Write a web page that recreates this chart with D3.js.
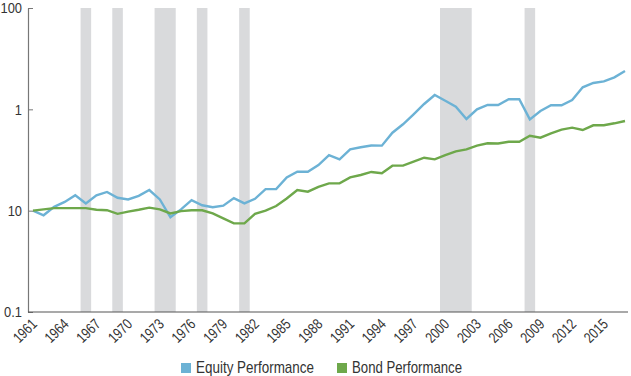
<!DOCTYPE html>
<html>
<head>
<meta charset="utf-8">
<script src="https://cdn.jsdelivr.net/npm/d3@7"></script>
<style>
  body { margin: 0; background: #fff; }
  text { font-family: "Liberation Sans", Arial, sans-serif; }
</style>
</head>
<body>
<div id="chart"></div>
<script>
// datos
const years = d3.range(1961, 2018)
const equity = [10, 9.0, 10.9, 12.2, 14.2, 11.8, 14.2, 15.3, 13.4, 12.9,
  14.0, 16.0, 12.9, 8.6, 10.3, 12.7, 11.3, 10.8, 11.2, 13.3,
  11.8, 13.1, 16.3, 16.3, 21.3, 24.2, 24.2, 28.2, 35.4, 32.1,
  40.3, 42.2, 44.0, 43.8, 58.8, 71.2, 89.3, 112.9, 138.5, 121.7,
  106.2, 80.3, 100, 110.4, 110.4, 125.6, 125.6, 79.7, 96.3, 109.6,
  109.6, 123.7, 165, 182, 189, 207, 239]
const bond = [10, 10.3, 10.6, 10.6, 10.6, 10.6, 10.2, 10.1, 9.3, 9.8,
  10.2, 10.7, 10.3, 9.4, 9.9, 10.1, 10.1, 9.4, 8.4, 7.5,
  7.5, 9.3, 10.0, 11.1, 13.2, 16.0, 15.4, 17.2, 18.6, 18.6,
  21.3, 22.5, 24.1, 23.4, 27.8, 27.8, 30.4, 33.3, 32.1, 35.4,
  38.5, 40.3, 43.8, 46.2, 46.0, 47.9, 47.9, 54.9, 52.5, 58.0,
  63.0, 65.9, 62.5, 69.6, 69.6, 72.8, 76.7]
// recesiones (año inicial, año final)
const recessions = [[1966, 1966], [1969, 1969], [1973, 1974], [1977, 1977],
  [1981, 1981], [2000, 2002], [2008, 2008]]
const yTicks = [1000, 100, 10, 1]
const yTickLabels = ["100", "1", "10", "0.1"]
const xTicks = d3.range(1961, 2016, 3)
const seriesNames = ["Equity Performance", "Bond Performance"]
const seriesColors = ["#6cb2d5", "#6ea84b"]

const width = 631, height = 376
const margin = { top: 8, right: 3, bottom: 64, left: 28 }
const innerWidth = width - margin.left - margin.right
const innerHeight = height - margin.top - margin.bottom

// estrecha el texto (fuente condensada aproximada)
function condense(sel, k) {
  sel.each(function () {
    const w = this.getComputedTextLength()
    d3.select(this).attr("textLength", w * k).attr("lengthAdjust", "spacingAndGlyphs")
  })
}

const svg = d3.select("#chart").append("svg")
  .attr("width", width)
  .attr("height", height)

const g = svg.append("g")
  .attr("transform", `translate(${margin.left},${margin.top})`)

const x = d3.scaleLinear()
  .domain([1961, 2017])
  .range([5, 597])

const y = d3.scaleLog()
  .domain([1, 1000])
  .range([innerHeight, 0])

// barras de recesión
g.selectAll("rect.rec")
  .data(recessions)
  .join("rect")
  .attr("class", "rec")
  .attr("x", d => x(d[0] - 0.5))
  .attr("width", d => x(d[1] + 0.5) - x(d[0] - 0.5))
  .attr("y", 0)
  .attr("height", innerHeight)
  .attr("fill", "#d9dadc")

// líneas
const series = [equity, bond]
const line = d3.line()
  .x((d, i) => x(years[i]))
  .y(d => y(d))

g.selectAll("path.series")
  .data(series)
  .join("path")
  .attr("class", "series")
  .attr("d", line)
  .attr("fill", "none")
  .attr("stroke", (d, i) => seriesColors[i])
  .attr("stroke-width", 2.4)

// eje Y
const yAxis = g.append("g")
  .call(d3.axisLeft(y)
    .tickValues(yTicks)
    .tickSizeInner(-5)
    .tickSizeOuter(0)
    .tickPadding(6)
    .tickFormat((d, i) => yTickLabels[i]))
yAxis.select(".domain").attr("stroke", "#777").attr("stroke-width", 1.2)
yAxis.selectAll(".tick line").attr("stroke", "#777")
yAxis.selectAll(".tick text")
  .attr("fill", "#333")
  .attr("font-size", "15px")
  .attr("font-family", "Liberation Sans, Arial, sans-serif")
  .call(condense, 0.86)

// eje X (línea)
g.append("line")
  .attr("x1", 0)
  .attr("x2", innerWidth)
  .attr("y1", innerHeight)
  .attr("y2", innerHeight)
  .attr("stroke", "#555")
  .attr("stroke-width", 1.2)

// etiquetas X giradas
const xLabels = g.selectAll("g.xlab")
  .data(xTicks)
  .join("g")
  .attr("class", "xlab")
  .attr("transform", d => `translate(${x(d) + 5},${innerHeight + 13}) rotate(-45)`)

xLabels.append("text")
  .attr("text-anchor", "end")
  .attr("fill", "#333")
  .attr("font-size", "15px")
  .text(d => d)
  .call(condense, 0.8)

// leyenda
const legendX = [181, 337]
const legendW = [118, 110]
const legend = svg.append("g")
  .selectAll("g")
  .data(seriesNames)
  .join("g")
  .attr("transform", (d, i) => `translate(${legendX[i]},363)`)

legend.append("rect")
  .attr("width", 10)
  .attr("height", 10)
  .attr("fill", (d, i) => seriesColors[i])

legend.append("text")
  .attr("x", 15)
  .attr("y", 9.5)
  .attr("fill", "#333")
  .attr("font-size", "17px")
  .attr("textLength", (d, i) => legendW[i])
  .attr("lengthAdjust", "spacingAndGlyphs")
  .text(d => d)
</script>
</body>
</html>
